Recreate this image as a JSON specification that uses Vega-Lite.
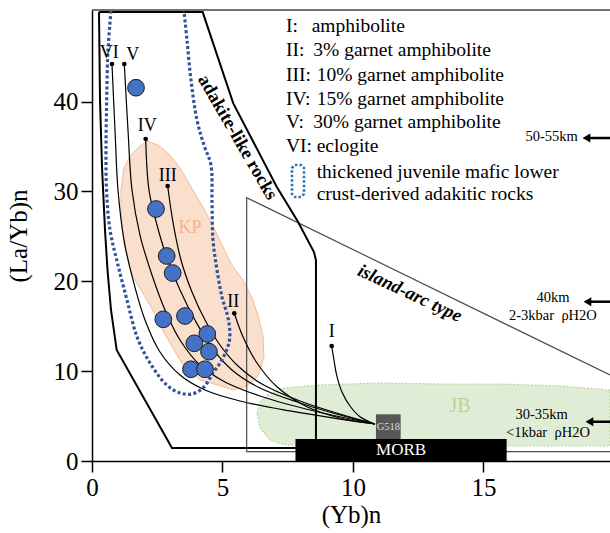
{
  "$schema": "https://vega.github.io/schema/vega-lite/v6.json",
  "width": 518,
  "height": 451,
  "autosize": {"type": "none"},
  "padding": {"left": 92, "top": 10, "right": 0, "bottom": 72},
  "background": "white",
  "config": {
    "font": "Liberation Serif",
    "view": {"stroke": null},
    "axis": {"grid": false, "domainColor": "#000", "domainWidth": 1.5, "tickColor": "#000", "tickWidth": 1.5, "tickSize": 11, "labelFontSize": 25, "labelColor": "#000", "titleFontSize": 25, "titleFontWeight": "normal", "titleColor": "#000", "labelPadding": 3, "labelFlush": false, "labelOverlap": false}
  },
  "datasets": {
    "lines": [
      {"s":"JB","i":0,"x":6.322,"y":5.34},{"s":"JB","i":1,"x":6.437,"y":6.57},{"s":"JB","i":2,"x":6.743,"y":7.35},{"s":"JB","i":3,"x":7.318,"y":8.12},{"s":"JB","i":4,"x":8.736,"y":8.46},{"s":"JB","i":5,"x":11.034,"y":8.68},{"s":"JB","i":6,"x":13.333,"y":8.57},{"s":"JB","i":7,"x":15.632,"y":8.57},{"s":"JB","i":8,"x":17.931,"y":8.35},{"s":"JB","i":9,"x":19.85,"y":7.9},{"s":"JB","i":10,"x":19.85,"y":1.67},{"s":"JB","i":11,"x":15.632,"y":1.67},{"s":"JB","i":12,"x":11.801,"y":1.67},{"s":"JB","i":13,"x":7.395,"y":1.78},{"s":"JB","i":14,"x":6.82,"y":2.34},{"s":"JB","i":15,"x":6.437,"y":3.67},
      {"s":"KP","i":0,"x":2.107,"y":35.62},{"s":"KP","i":1,"x":2.529,"y":35.17},{"s":"KP","i":2,"x":2.912,"y":34.28},{"s":"KP","i":3,"x":3.372,"y":32.61},{"s":"KP","i":4,"x":3.87,"y":30.16},{"s":"KP","i":5,"x":4.253,"y":28.27},{"s":"KP","i":6,"x":4.636,"y":26.16},{"s":"KP","i":7,"x":4.981,"y":24.04},{"s":"KP","i":8,"x":5.364,"y":21.81},{"s":"KP","i":9,"x":5.785,"y":20.15},{"s":"KP","i":10,"x":6.13,"y":18.14},{"s":"KP","i":11,"x":6.36,"y":16.25},{"s":"KP","i":12,"x":6.552,"y":13.91},{"s":"KP","i":13,"x":6.59,"y":11.58},{"s":"KP","i":14,"x":6.36,"y":9.46},{"s":"KP","i":15,"x":5.939,"y":8.35},{"s":"KP","i":16,"x":5.402,"y":7.9},{"s":"KP","i":17,"x":4.828,"y":8.46},{"s":"KP","i":18,"x":4.138,"y":9.02},{"s":"KP","i":19,"x":3.487,"y":10.68},{"s":"KP","i":20,"x":2.874,"y":13.69},{"s":"KP","i":21,"x":2.222,"y":17.36},{"s":"KP","i":22,"x":1.533,"y":20.7},{"s":"KP","i":23,"x":1.226,"y":24.04},{"s":"KP","i":24,"x":1.111,"y":27.38},{"s":"KP","i":25,"x":1.111,"y":30.16},{"s":"KP","i":26,"x":1.226,"y":32.61},{"s":"KP","i":27,"x":1.456,"y":33.95},{"s":"KP","i":28,"x":1.839,"y":35.06},
      {"s":"IA","i":0,"x":19.85,"y":9.57},{"s":"IA","i":1,"x":5.927,"y":29.31},{"s":"IA","i":2,"x":5.927,"y":1.035},{"s":"IA","i":3,"x":19.85,"y":1.035},
      {"s":"AD","i":0,"x":0.268,"y":49.97},{"s":"AD","i":1,"x":4.241,"y":49.97},{"s":"AD","i":2,"x":5.414,"y":39.81},{"s":"AD","i":3,"x":7.077,"y":30.53},{"s":"AD","i":4,"x":7.893,"y":26.63},{"s":"AD","i":5,"x":8.506,"y":23.26},{"s":"AD","i":6,"x":8.582,"y":22.37},{"s":"AD","i":7,"x":8.582,"y":1.447},{"s":"AD","i":8,"x":3.065,"y":1.447},{"s":"AD","i":9,"x":0.946,"y":12.35},{"s":"AD","i":10,"x":0.728,"y":16.81},{"s":"AD","i":11,"x":0.594,"y":21.26},{"s":"AD","i":12,"x":0.498,"y":25.71},{"s":"AD","i":13,"x":0.383,"y":32.72},{"s":"AD","i":14,"x":0.307,"y":40.18},{"s":"AD","i":15,"x":0.268,"y":49.97},
      {"s":"VI","i":0,"x":0.766,"y":44.19},{"s":"VI","i":1,"x":0.881,"y":36.84},{"s":"VI","i":2,"x":0.996,"y":30.16},{"s":"VI","i":3,"x":1.226,"y":24.6},{"s":"VI","i":4,"x":1.571,"y":20.15},{"s":"VI","i":5,"x":2.031,"y":15.69},{"s":"VI","i":6,"x":2.605,"y":12.13},{"s":"VI","i":7,"x":3.372,"y":9.57},{"s":"VI","i":8,"x":4.33,"y":7.9},{"s":"VI","i":9,"x":5.67,"y":6.68},{"s":"VI","i":10,"x":7.586,"y":5.57},{"s":"VI","i":11,"x":9.502,"y":4.67},{"s":"VI","i":12,"x":10.843,"y":4.12},
      {"s":"V","i":0,"x":1.238,"y":44.19},{"s":"V","i":1,"x":1.379,"y":36.84},{"s":"V","i":2,"x":1.533,"y":30.16},{"s":"V","i":3,"x":1.839,"y":25.15},{"s":"V","i":4,"x":2.299,"y":20.7},{"s":"V","i":5,"x":2.797,"y":16.81},{"s":"V","i":6,"x":3.372,"y":13.47},{"s":"V","i":7,"x":4.138,"y":10.68},{"s":"V","i":8,"x":5.096,"y":8.79},{"s":"V","i":9,"x":6.437,"y":7.23},{"s":"V","i":10,"x":8.352,"y":5.68},{"s":"V","i":11,"x":10.843,"y":4.12},
      {"s":"IV","i":0,"x":2.057,"y":35.84},{"s":"IV","i":1,"x":2.184,"y":30.16},{"s":"IV","i":2,"x":2.49,"y":26.27},{"s":"IV","i":3,"x":2.874,"y":22.59},{"s":"IV","i":4,"x":3.372,"y":19.03},{"s":"IV","i":5,"x":3.946,"y":15.69},{"s":"IV","i":6,"x":4.598,"y":12.58},{"s":"IV","i":7,"x":5.364,"y":10.13},{"s":"IV","i":8,"x":6.437,"y":8.12},{"s":"IV","i":9,"x":7.969,"y":6.46},{"s":"IV","i":10,"x":9.502,"y":5.12},{"s":"IV","i":11,"x":10.843,"y":4.12},
      {"s":"III","i":0,"x":2.9,"y":30.61},{"s":"III","i":1,"x":3.103,"y":26.6},{"s":"III","i":2,"x":3.41,"y":22.37},{"s":"III","i":3,"x":3.831,"y":18.81},{"s":"III","i":4,"x":4.33,"y":15.69},{"s":"III","i":5,"x":4.904,"y":12.91},{"s":"III","i":6,"x":5.594,"y":10.57},{"s":"III","i":7,"x":6.513,"y":8.57},{"s":"III","i":8,"x":7.969,"y":6.68},{"s":"III","i":9,"x":9.502,"y":5.23},{"s":"III","i":10,"x":10.843,"y":4.12},
      {"s":"II","i":0,"x":5.452,"y":16.44},{"s":"II","i":1,"x":5.785,"y":13.83},{"s":"II","i":2,"x":6.322,"y":10.91},{"s":"II","i":3,"x":7.088,"y":8.27},{"s":"II","i":4,"x":8.238,"y":6.04},{"s":"II","i":5,"x":9.502,"y":4.79},{"s":"II","i":6,"x":10.843,"y":4.12},
      {"s":"I","i":0,"x":9.184,"y":12.8},{"s":"I","i":1,"x":9.272,"y":11.24},{"s":"I","i":2,"x":9.375,"y":9.57},{"s":"I","i":3,"x":9.579,"y":7.68},{"s":"I","i":4,"x":9.885,"y":6.12},{"s":"I","i":5,"x":10.268,"y":4.93},{"s":"I","i":6,"x":10.843,"y":4.12},
      {"s":"BD","i":0,"x":0.728,"y":50.1},{"s":"BD","i":1,"x":0.613,"y":45.74},{"s":"BD","i":2,"x":0.563,"y":40.18},{"s":"BD","i":3,"x":0.536,"y":34.61},{"s":"BD","i":4,"x":0.556,"y":30.16},{"s":"BD","i":5,"x":0.69,"y":25.71},{"s":"BD","i":6,"x":0.996,"y":21.81},{"s":"BD","i":7,"x":1.341,"y":17.92},{"s":"BD","i":8,"x":1.724,"y":13.83},{"s":"BD","i":9,"x":2.222,"y":10.91},{"s":"BD","i":10,"x":2.862,"y":8.46},{"s":"BD","i":11,"x":3.372,"y":7.57},{"s":"BD","i":12,"x":3.831,"y":7.46},{"s":"BD","i":13,"x":4.253,"y":8.12},{"s":"BD","i":14,"x":4.636,"y":9.79},{"s":"BD","i":15,"x":5.019,"y":11.46},{"s":"BD","i":16,"x":5.268,"y":13.47},{"s":"BD","i":17,"x":5.23,"y":15.69},{"s":"BD","i":18,"x":4.981,"y":18.25},{"s":"BD","i":19,"x":4.789,"y":21.26},{"s":"BD","i":20,"x":4.636,"y":24.6},{"s":"BD","i":21,"x":4.598,"y":29.05},{"s":"BD","i":22,"x":4.559,"y":32.94},{"s":"BD","i":23,"x":4.291,"y":35.17},{"s":"BD","i":24,"x":4.023,"y":37.95},{"s":"BD","i":25,"x":3.793,"y":42.41},{"s":"BD","i":26,"x":3.64,"y":46.86},{"s":"BD","i":27,"x":3.525,"y":50.1},
      {"s":"LG","i":0,"x":7.778,"y":32.94},{"s":"LG","i":1,"x":8.008,"y":32.94},{"s":"LG","i":2,"x":8.123,"y":32.61},{"s":"LG","i":3,"x":8.123,"y":29.72},{"s":"LG","i":4,"x":8.008,"y":29.38},{"s":"LG","i":5,"x":7.778,"y":29.38},{"s":"LG","i":6,"x":7.663,"y":29.72},{"s":"LG","i":7,"x":7.663,"y":32.61},{"s":"LG","i":8,"x":7.778,"y":32.94}
    ],
    "pts": [
      {"g":"end","x":9.184,"y":12.8},{"g":"end","x":5.452,"y":16.44},{"g":"end","x":2.9,"y":30.61},{"g":"end","x":2.057,"y":35.84},{"g":"end","x":1.238,"y":44.19},{"g":"end","x":0.766,"y":44.19},
      {"g":"sample","x":1.686,"y":41.55},{"g":"sample","x":2.452,"y":28.05},{"g":"sample","x":2.862,"y":22.82},{"g":"sample","x":3.092,"y":20.92},{"g":"sample","x":2.732,"y":15.77},{"g":"sample","x":3.563,"y":16.14},{"g":"sample","x":4.418,"y":14.14},{"g":"sample","x":3.92,"y":13.1},{"g":"sample","x":4.483,"y":12.17},{"g":"sample","x":3.793,"y":10.21},{"g":"sample","x":4.33,"y":10.21},
      {"g":"head","x":18.946,"y":35.95},{"g":"head","x":18.985,"y":17.73},{"g":"head","x":19.061,"y":4.37}
    ],
    "rects": [
      {"n":"MORB","x":7.797,"x2":15.889,"y":0,"y2":2.45},
      {"n":"G518","x":10.881,"x2":11.828,"y":2.45,"y2":5.2}
    ],
    "rules": [
      {"g":"frame","x":0,"x2":19.85,"y":50.2},
      {"g":"arrow","x":18.946,"x2":19.85,"y":35.95},
      {"g":"arrow","x":18.985,"x2":19.85,"y":17.73},
      {"g":"arrow","x":19.061,"x2":19.85,"y":4.37}
    ],
    "txt": [
      {"g":"ll","t":"I:","x":7.433,"y":48.42},{"g":"ll","t":"II:","x":7.433,"y":45.74},{"g":"ll","t":"III:","x":7.433,"y":42.96},{"g":"ll","t":"IV:","x":7.433,"y":40.29},{"g":"ll","t":"V:","x":7.433,"y":37.7},{"g":"ll","t":"VI:","x":7.433,"y":35.09},
      {"g":"ll","t":"amphibolite","x":8.418,"y":48.42},{"g":"ll","t":"3% garnet amphibolite","x":8.479,"y":45.74},{"g":"ll","t":"10% garnet amphibolite","x":8.609,"y":42.96},{"g":"ll","t":"15% garnet amphibolite","x":8.609,"y":40.29},{"g":"ll","t":"30% garnet amphibolite","x":8.479,"y":37.7},{"g":"ll","t":"eclogite","x":8.609,"y":35.09},{"g":"ll","t":"thickened juvenile mafic lower","x":8.609,"y":32.2},{"g":"ll","t":"crust-derived adakitic rocks","x":8.609,"y":29.68},
      {"g":"cl","t":"I","x":9.184,"y":14.39},{"g":"cl","t":"II","x":5.414,"y":17.73},{"g":"cl","t":"III","x":2.9,"y":31.72},{"g":"cl","t":"IV","x":2.119,"y":37.29},{"g":"cl","t":"V","x":1.559,"y":45.19},{"g":"cl","t":"VI","x":0.663,"y":45.38},
      {"g":"dp","t":"50-55km","x":17.613,"y":36.01},{"g":"dp","t":"40km","x":17.663,"y":18.14},{"g":"dp","t":"2-3kbar\u00a0\u00a0ρH2O","x":17.663,"y":16.14},{"g":"dp","t":"30-35km","x":17.23,"y":5.12},{"g":"dp","t":"<1kbar\u00a0\u00a0ρH2O","x":17.471,"y":3.08},
      {"g":"kp","t":"KP","x":3.755,"y":25.93},
      {"g":"jb","t":"JB","x":14.1,"y":6.15},
      {"g":"morb","t":"MORB","x":11.843,"y":1.22},
      {"g":"g518","t":"G518","x":11.355,"y":3.82},
      {"g":"adk","t":"adakite-like rocks","x":5.594,"y":36.06},
      {"g":"isl","t":"island-arc type","x":12.184,"y":18.7}
    ]
  },
  "encoding": {
    "x": {"field": "x", "type": "quantitative", "scale": {"domain": [0, 19.85], "nice": false, "zero": false}, "axis": {"values": [0, 5, 10, 15], "title": "(Yb)n", "titlePadding": 2}},
    "y": {"field": "y", "type": "quantitative", "scale": {"domain": [0, 50.2], "nice": false, "zero": false}, "axis": {"values": [0, 10, 20, 30, 40], "title": "(La/Yb)n", "titlePadding": 22}}
  },
  "layer": [
    {"data": {"name": "lines"}, "transform": [{"filter": {"field": "s", "equal": "JB"}}],
     "mark": {"type": "line", "interpolate": "linear-closed", "fill": "#e0edd6", "stroke": "#b9d6a3", "strokeWidth": 1.2, "strokeDash": [2, 1.5]},
     "encoding": {"order": {"field": "i", "type": "quantitative"}}},
    {"data": {"name": "lines"}, "transform": [{"filter": {"field": "s", "equal": "KP"}}],
     "mark": {"type": "line", "interpolate": "linear-closed", "fill": "#fbdfcd", "stroke": "#f1bd99", "strokeWidth": 1},
     "encoding": {"order": {"field": "i", "type": "quantitative"}}},
    {"data": {"name": "lines"}, "transform": [{"filter": {"field": "s", "equal": "IA"}}],
     "mark": {"type": "line", "stroke": "#4d4d4d", "strokeWidth": 1.2},
     "encoding": {"order": {"field": "i", "type": "quantitative"}}},
    {"data": {"name": "lines"}, "transform": [{"filter": {"field": "s", "equal": "AD"}}],
     "mark": {"type": "line", "stroke": "#000", "strokeWidth": 2},
     "encoding": {"order": {"field": "i", "type": "quantitative"}}},
    {"data": {"name": "lines"}, "transform": [{"filter": {"field": "s", "oneOf": ["I", "II", "III", "IV", "V", "VI"]}}],
     "mark": {"type": "line", "interpolate": "catmull-rom", "stroke": "#000", "strokeWidth": 1.2},
     "encoding": {"order": {"field": "i", "type": "quantitative"}, "detail": {"field": "s"}}},
    {"data": {"name": "lines"}, "transform": [{"filter": {"field": "s", "equal": "BD"}}],
     "mark": {"type": "line", "interpolate": "catmull-rom", "stroke": "#2f5597", "strokeWidth": 3.2, "strokeDash": [3, 2.4]},
     "encoding": {"order": {"field": "i", "type": "quantitative"}}},
    {"data": {"name": "lines"}, "transform": [{"filter": {"field": "s", "equal": "LG"}}],
     "mark": {"type": "line", "stroke": "#2e75b6", "strokeWidth": 2.6, "strokeDash": [2.5, 2]},
     "encoding": {"order": {"field": "i", "type": "quantitative"}}},
    {"data": {"name": "rects"},
     "mark": {"type": "rect"},
     "encoding": {"x2": {"field": "x2"}, "y2": {"field": "y2"}, "fill": {"field": "n", "type": "nominal", "scale": {"domain": ["MORB", "G518"], "range": ["#000000", "#575757"]}, "legend": null}}},
    {"data": {"name": "rules"}, "transform": [{"filter": {"field": "g", "equal": "frame"}}],
     "mark": {"type": "rule", "stroke": "#444", "strokeWidth": 1.5},
     "encoding": {"x2": {"field": "x2"}}},
    {"data": {"name": "rules"}, "transform": [{"filter": {"field": "g", "equal": "arrow"}}],
     "mark": {"type": "rule", "stroke": "#000", "strokeWidth": 2.5},
     "encoding": {"x2": {"field": "x2"}}},
    {"data": {"name": "pts"}, "transform": [{"filter": {"field": "g", "equal": "end"}}],
     "mark": {"type": "point", "filled": true, "color": "#000", "size": 22, "opacity": 1}},
    {"data": {"name": "pts"}, "transform": [{"filter": {"field": "g", "equal": "sample"}}],
     "mark": {"type": "point", "filled": true, "fill": "#4472c4", "stroke": "#1e1e1e", "strokeWidth": 1, "size": 280, "opacity": 1}},
    {"data": {"name": "pts"}, "transform": [{"filter": {"field": "g", "equal": "head"}}],
     "mark": {"type": "point", "shape": "triangle-left", "filled": true, "color": "#000", "size": 80, "opacity": 1}},
    {"data": {"name": "txt"}, "transform": [{"filter": {"field": "g", "equal": "ll"}}],
     "mark": {"type": "text", "align": "left", "baseline": "middle", "fontSize": 19.5, "color": "#000"},
     "encoding": {"text": {"field": "t"}}},
    {"data": {"name": "txt"}, "transform": [{"filter": {"field": "g", "equal": "cl"}}],
     "mark": {"type": "text", "align": "center", "baseline": "middle", "fontSize": 18, "color": "#000"},
     "encoding": {"text": {"field": "t"}}},
    {"data": {"name": "txt"}, "transform": [{"filter": {"field": "g", "equal": "dp"}}],
     "mark": {"type": "text", "align": "center", "baseline": "middle", "fontSize": 14.5, "color": "#000"},
     "encoding": {"text": {"field": "t"}}},
    {"data": {"name": "txt"}, "transform": [{"filter": {"field": "g", "equal": "kp"}}],
     "mark": {"type": "text", "align": "center", "baseline": "middle", "fontSize": 18, "color": "#f2b48d"},
     "encoding": {"text": {"field": "t"}}},
    {"data": {"name": "txt"}, "transform": [{"filter": {"field": "g", "equal": "jb"}}],
     "mark": {"type": "text", "align": "center", "baseline": "middle", "fontSize": 20, "color": "#b5d49b"},
     "encoding": {"text": {"field": "t"}}},
    {"data": {"name": "txt"}, "transform": [{"filter": {"field": "g", "equal": "morb"}}],
     "mark": {"type": "text", "align": "center", "baseline": "middle", "fontSize": 17, "color": "#ffffff"},
     "encoding": {"text": {"field": "t"}}},
    {"data": {"name": "txt"}, "transform": [{"filter": {"field": "g", "equal": "g518"}}],
     "mark": {"type": "text", "align": "center", "baseline": "middle", "fontSize": 10.5, "color": "#dddddd"},
     "encoding": {"text": {"field": "t"}}},
    {"data": {"name": "txt"}, "transform": [{"filter": {"field": "g", "equal": "adk"}}],
     "mark": {"type": "text", "align": "center", "baseline": "middle", "fontSize": 18.5, "fontWeight": "bold", "angle": 60, "color": "#000"},
     "encoding": {"text": {"field": "t"}}},
    {"data": {"name": "txt"}, "transform": [{"filter": {"field": "g", "equal": "isl"}}],
     "mark": {"type": "text", "align": "center", "baseline": "middle", "fontSize": 18.5, "fontWeight": "bold", "fontStyle": "italic", "angle": 25, "color": "#000"},
     "encoding": {"text": {"field": "t"}}}
  ]
}
